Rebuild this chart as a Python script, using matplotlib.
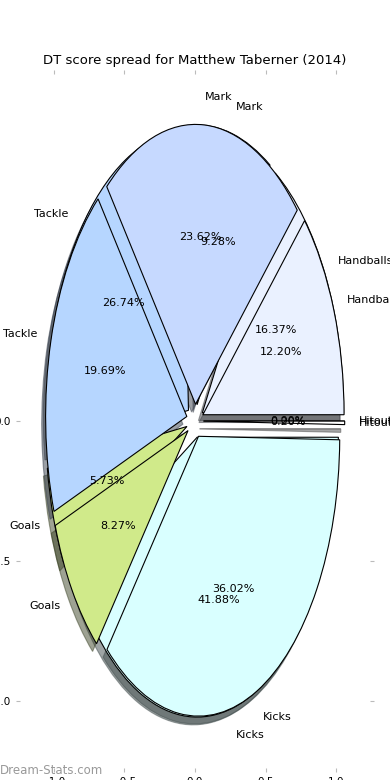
import numpy as np
import matplotlib
matplotlib.use("Agg")
import matplotlib.pyplot as plt

labels = ["Handballs", "Mark", "Tackle", "Goals", "Kicks", "Hitouts"]
share_a = [16.37, 9.28, 26.74, 5.73, 41.88, 0.00]
share_b = [12.20, 23.62, 19.69, 8.27, 36.02, 0.20]
colors = ["#eaf1ff", "#c6d9ff", "#b6d6ff", "#d0ea8a", "#d9ffff", "#ffffff"]

fig = plt.figure(figsize=(3.9, 7.8), dpi=100)
ax = fig.add_axes([0.051, 12 / 780, 0.898, 694 / 780])

explode = [0.06] * len(labels)
wp = dict(edgecolor="black", linewidth=0.8)
tp = dict(fontsize=8)

for vals in (share_a, share_b):
    ax.pie(vals, labels=labels, colors=colors, explode=explode,
           autopct="%1.2f%%", shadow=True, wedgeprops=wp, textprops=tp,
           frame=True)

ax.set_aspect("auto")
ax.set_xlim(-1.24, 1.24)
ax.set_ylim(-1.24, 1.24)
ax.set_xticks([-1.0, -0.5, 0.0, 0.5, 1.0])
ax.set_yticks([-1.0, -0.5, 0.0])
ax.tick_params(colors="#bbbbbb", labelcolor="black", labelsize=7.5,
               top=True, right=True, length=3)
for s in ax.spines.values():
    s.set_visible(False)
ax.set_title("DT score spread for Matthew Taberner (2014)", fontsize=9.5, pad=7)

fig.text(0.0, 1 - 771 / 780, "Dream-Stats.com", color="#999999", fontsize=8.5,
         ha="left", va="center")

fig.savefig("out.png", dpi=100)
